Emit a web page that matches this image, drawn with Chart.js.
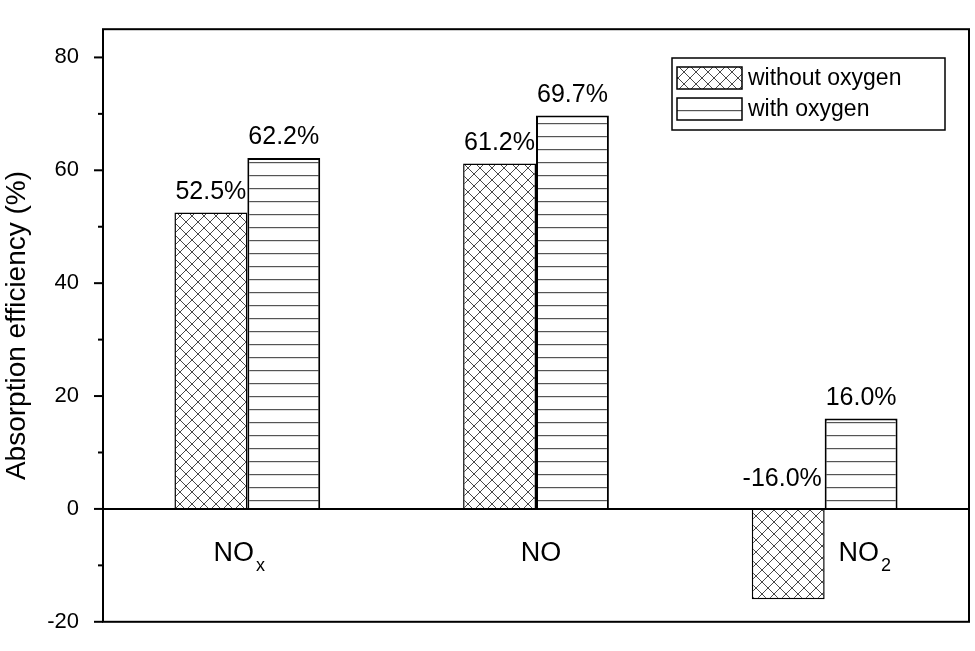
<!DOCTYPE html>
<html><head>
<script src="https://cdn.jsdelivr.net/npm/chart.js@4"></script>
<style>html,body{margin:0;background:#fff}#wrap{width:975px;height:651px}</style>
</head><body>
<div id="wrap"><canvas id="c"></canvas></div>
<script>
const categories = ['NOx', 'NO', 'NO2'];
const withoutOxygen = [52.5, 61.2, -16.0];
const withOxygen = [62.2, 69.7, 16.0];
const seriesNames = ['without oxygen', 'with oxygen'];
const FONT = '"Liberation Sans", Arial, sans-serif';

function crossPattern() {
    const p = document.createElement('canvas');
    p.width = 12; p.height = 12;
    const g = p.getContext('2d');
    g.fillStyle = '#fff'; g.fillRect(0, 0, 12, 12);
    g.strokeStyle = '#333'; g.lineWidth = 0.9;
    g.beginPath();
    g.moveTo(0, 0); g.lineTo(12, 12);
    g.moveTo(12, 0); g.lineTo(0, 12);
    g.moveTo(-6, 6); g.lineTo(6, 18); g.moveTo(6, -6); g.lineTo(18, 6);
    g.moveTo(6, -6); g.lineTo(-6, 6); g.moveTo(18, 6); g.lineTo(6, 18);
    g.stroke();
    return g.createPattern(p, 'repeat');
}
function linePattern() {
    const p = document.createElement('canvas');
    p.width = 12; p.height = 13;
    const g = p.getContext('2d');
    g.fillStyle = '#fff'; g.fillRect(0, 0, 12, 13);
    g.fillStyle = '#555'; g.fillRect(0, 6, 12, 1.2);
    return g.createPattern(p, 'repeat');
}
const fills = [crossPattern(), linePattern()];

const decor = {
    id: 'decor',
    afterDatasetsDraw(chart) {
        const ctx = chart.ctx, a = chart.chartArea;
        const y = chart.scales.y, x = chart.scales.x;
        ctx.save();
        ctx.strokeStyle = '#000'; ctx.lineWidth = 2;
        ctx.strokeRect(a.left, a.top, a.right - a.left, a.bottom - a.top);
        const y0 = y.getPixelForValue(0);
        ctx.beginPath(); ctx.moveTo(a.left, y0); ctx.lineTo(a.right, y0); ctx.stroke();
        // ticks
        for (let v = -20; v <= 80; v += 10) {
            const py = y.getPixelForValue(v);
            const len = v % 20 === 0 ? 9 : 5;
            ctx.beginPath(); ctx.moveTo(a.left - len, py); ctx.lineTo(a.left, py); ctx.stroke();
        }
        // value labels
        ctx.fillStyle = '#000';
        ctx.font = '25px ' + FONT;
        ctx.textAlign = 'center'; ctx.textBaseline = 'bottom';
        chart.data.datasets.forEach((ds, di) => {
            chart.getDatasetMeta(di).data.forEach((bar, i) => {
                const v = ds.data[i];
                const ty = v >= 0 ? bar.y - 8 : y0 - 17;
                ctx.fillText(v.toFixed(1) + '%', bar.x - (v < 0 ? 6 : 0), ty);
            });
        });
        // category labels with subscripts
        const offs = [-8, 5, 40];
        const subs = ['x', '', '2'];
        categories.forEach((c, i) => {
            const base = c.replace(/[x2]$/, '');
            const cx = x.getPixelForValue(i) + offs[i];
            ctx.font = '27px ' + FONT;
            const w1 = ctx.measureText(base).width;
            ctx.font = '18px ' + FONT;
            const w2 = subs[i] ? ctx.measureText(subs[i]).width + 2 : 0;
            const sx = cx - (w1 + w2) / 2;
            ctx.textAlign = 'left'; ctx.textBaseline = 'alphabetic';
            ctx.font = '27px ' + FONT;
            ctx.fillText(base, sx, y0 + 52);
            if (subs[i]) { ctx.font = '18px ' + FONT; ctx.fillText(subs[i], sx + w1 + 2, y0 + 62); }
        });
        // legend
        ctx.lineWidth = 1.5;
        ctx.strokeRect(672, 58, 273, 72);
        seriesNames.forEach((n, i) => {
            const ly = 67 + i * 31;
            ctx.fillStyle = fills[i];
            ctx.fillRect(677, ly, 65, 22);
            ctx.strokeRect(677, ly, 65, 22);
            ctx.fillStyle = '#000';
            ctx.font = '23px ' + FONT;
            ctx.textBaseline = 'middle';
            ctx.fillText(n, 748, ly + 12);
        });
        ctx.restore();
    }
};

new Chart(document.getElementById('c'), {
    type: 'bar',
    data: {
        labels: categories,
        datasets: [
            { label: seriesNames[0], data: withoutOxygen, backgroundColor: fills[0], borderColor: '#000', borderWidth: 1.5 },
            { label: seriesNames[1], data: withOxygen, backgroundColor: fills[1], borderColor: '#000', borderWidth: 2 }
        ]
    },
    options: {
        responsive: true, maintainAspectRatio: false, animation: false,
        layout: { padding: { left: 0, top: -20, right: 6, bottom: 0 } },
        datasets: { bar: { categoryPercentage: 0.505, barPercentage: 1 } },
        plugins: { legend: { display: false }, tooltip: { enabled: false } },
        scales: {
            x: { display: false },
            y: {
                min: -20, max: 85,
                afterBuildTicks(s) { s.ticks = s.ticks.filter(t => t.value % 20 === 0); },
                afterFit(s) { s.width = 103; },
                ticks: { stepSize: 20, padding: 16, color: '#000', font: { family: FONT, size: 22 } },
                grid: { display: false },
                border: { display: false },
                title: { display: true, text: 'Absorption efficiency (%)', color: '#000', font: { family: FONT, size: 28 }, padding: 0 }
            }
        }
    },
    plugins: [decor]
});
</script>
</body></html>
